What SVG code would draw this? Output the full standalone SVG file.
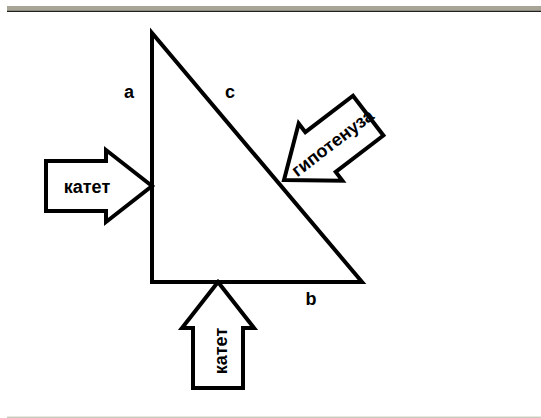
<svg xmlns="http://www.w3.org/2000/svg" width="541" height="418" viewBox="0 0 541 418">
<defs>
<style>
.edge{fill:none;stroke:#000;stroke-width:4;stroke-linejoin:miter}
.arrow{fill:#fff;stroke:#000;stroke-width:4;stroke-linejoin:miter}
.lbl{font-family:"Liberation Sans",Arial,sans-serif;font-weight:bold;font-size:18px;fill:#000}
</style>
<path id="arrowShape" d="M0,0 L-46,-36 L-46,-25 L-106,-25 L-106,25 L-46,25 L-46,36 Z"/>
</defs>
<rect width="541" height="418" fill="#fff"/>
<rect x="7" y="6" width="534" height="5" fill="#a8a596"/>
<rect x="7" y="10.8" width="534" height="1.2" fill="#222"/>
<rect x="7" y="416.7" width="534" height="1" fill="#b4b4a4"/>
<g id="connectors">
<path class="edge" d="M152,33 L152,282 L362,282 Z"/>
</g>
<g id="label-a"><text class="lbl" x="129" y="98" text-anchor="middle">a</text></g>
<g id="label-c"><text class="lbl" x="230" y="98" text-anchor="middle">c</text></g>
<g id="label-b"><text class="lbl" x="311" y="305" text-anchor="middle">b</text></g>
<g id="arrow-left">
<use href="#arrowShape" class="arrow" transform="translate(152,186)"/>
<text class="lbl" x="87" y="193" text-anchor="middle">катет</text>
</g>
<g id="arrow-bottom">
<use href="#arrowShape" class="arrow" transform="translate(218,282) rotate(-90)"/>
<text class="lbl" transform="translate(227,351) rotate(-90)" text-anchor="middle">катет</text>
</g>
<g id="arrow-hyp">
<use href="#arrowShape" class="arrow" transform="translate(284,180) rotate(142.6)"/>
<text class="lbl" transform="translate(284,180) rotate(-37.4)" x="12" y="6">гипотенуза</text>
</g>
</svg>
